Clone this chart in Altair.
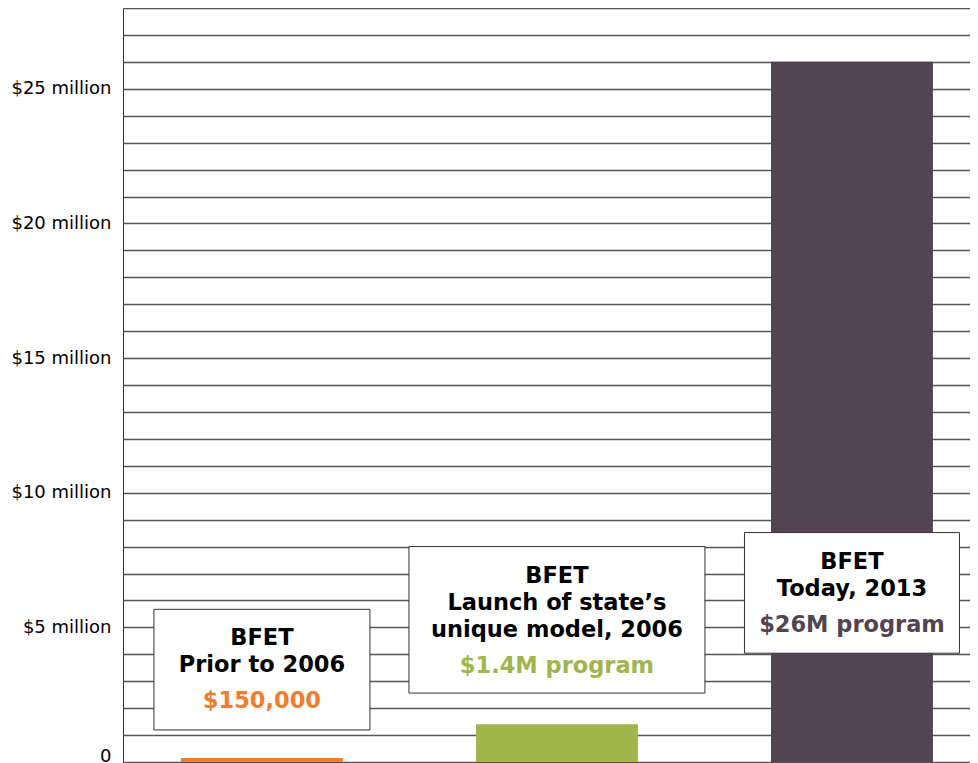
import altair as alt
import pandas as pd

# ---- data ----
categories = ["Prior to 2006", "Launch 2006", "Today 2013"]
funding_millions = [0.15, 1.4, 26.0]
bar_colors = ["#F07D2D", "#A0B54A", "#524452"]

box_lines = [
    ["BFET", "Prior to 2006"],
    ["BFET", "Launch of state\u2019s", "unique model, 2006"],
    ["BFET", "Today, 2013"],
]
box_amounts = ["$150,000", "$1.4M program", "$26M program"]
box_top = [5.67, 8.0, 8.52]
box_bottom = [1.19, 2.56, 4.04]

y_ticks = list(range(0, 29))

# ---- styles ----
box_widths_px = [216, 296, 215]
FONT = "DejaVu Sans"

bars_df = pd.DataFrame({"cat": categories, "value": funding_millions})
box_df = pd.DataFrame({"cat": categories, "top": box_top, "bottom": box_bottom})

xscale = alt.Scale(domain=categories, paddingInner=0.451, paddingOuter=0.161, align=0.61)
yscale = alt.Scale(domain=[0, 28], nice=False, zero=True)
yaxis = alt.Axis(
    values=y_ticks,
    labelExpr="datum.value % 5 == 0 ? (datum.value == 0 ? '0' : '$' + datum.value + ' million') : ''",
    title=None,
    grid=True,
    gridColor="#555555",
    gridWidth=1.4,
    ticks=False,
    labelPadding=12,
    labelFontSize=18,
    labelFont=FONT,
    labelColor="#000000",
    labelOverlap=False,
    labelFlush=True,
    labelFlushOffset=3,
    domain=True,
    domainColor="#333333",
    domainWidth=1,
)

X = alt.X("cat:N", scale=xscale, axis=None, sort=categories)

bars = alt.Chart(bars_df).mark_bar().encode(
    x=X,
    y=alt.Y("value:Q", scale=yscale, axis=yaxis),
    color=alt.Color("cat:N", scale=alt.Scale(domain=categories, range=bar_colors), legend=None),
)

layers = [bars]
for i, cat in enumerate(categories):
    box = alt.Chart(box_df.iloc[i:i + 1]).mark_bar(
        width=box_widths_px[i], fill="white", stroke="#333333", strokeWidth=1
    ).encode(
        x=X,
        y=alt.Y("bottom:Q", scale=yscale, axis=yaxis),
        y2="top:Q",
    )
    layers.append(box)

for i, cat in enumerate(categories):
    lines = box_lines[i]
    entries = [(t, 29 + 27 * j, "#000000") for j, t in enumerate(lines)]
    entries.append((box_amounts[i], 29 + 27 * (len(lines) - 1) + 36, bar_colors[i]))
    for t, off, col in entries:
        tdf = pd.DataFrame({"cat": [cat], "top": [box_top[i]], "text": [t]})
        layers.append(
            alt.Chart(tdf).mark_text(
                font=FONT, fontWeight="bold", fontSize=22.5, baseline="middle",
                align="center", dy=off, color=col
            ).encode(
                x=X,
                y=alt.Y("top:Q", scale=yscale, axis=yaxis),
                text="text:N",
            )
        )

chart = alt.layer(*layers).properties(
    width=847,
    height=754,
    autosize=alt.AutoSizeParams(type="none"),
    padding={"left": 115, "top": 0, "right": 0, "bottom": 10},
    background="white",
).configure_view(stroke=None)

chart.save("out.html", embed_options={"renderer": "svg", "actions": False})
